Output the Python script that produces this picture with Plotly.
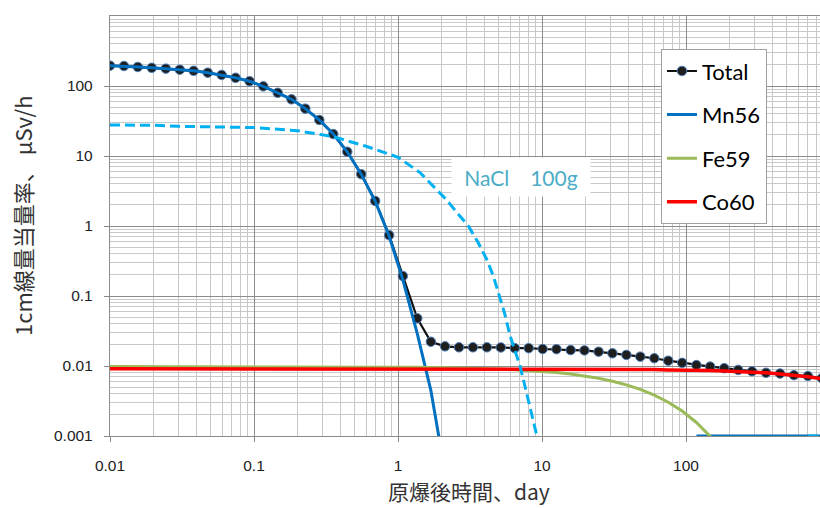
import plotly.graph_objects as go

# ---- data ----
times = [0.01, 0.0125, 0.0156, 0.0195, 0.0244, 0.0305, 0.0381, 0.0477, 0.0596, 0.0745,
         0.0931, 0.116, 0.146, 0.182, 0.227, 0.284, 0.355, 0.444, 0.555, 0.694,
         0.867, 1.08, 1.36, 1.69, 2.12, 2.65, 3.31, 4.14, 5.17, 6.46,
         8.08, 10.1, 12.6, 15.8, 19.7, 24.7, 30.8, 38.5, 48.1, 60.2,
         75.2, 94.0, 118, 147, 184, 230, 287, 359, 449, 561,
         701, 877]

total = [195, 193, 187, 182, 177, 171, 165, 155, 144, 131,
         117, 99, 80, 64.5, 47.5, 32.7, 20.6, 11.5, 5.5, 2.28,
         0.74, 0.193, 0.048, 0.0222, 0.0191, 0.0185, 0.0185, 0.0185, 0.0184, 0.018,
         0.018, 0.0175, 0.0174, 0.0169, 0.0167, 0.016, 0.0152, 0.0144, 0.0136, 0.0129,
         0.0119, 0.0111, 0.0103, 0.0098, 0.0093, 0.0088, 0.0084, 0.0080, 0.0078, 0.0074,
         0.0072, 0.0067]

mn56 = [195, 193, 187, 182, 177, 171, 165, 155, 144, 131,
        117, 99, 80, 64.5, 47.5, 32.7, 20.6, 11.5, 5.5, 2.26,
        0.72, 0.17, 0.029, 0.0045, 0.0003, None, None, None, None, None,
        None, None, None, None, None, None, None, None, None, None,
        None, None, 0.001, 0.001, 0.001, 0.001, 0.001, 0.001, 0.001, 0.001,
        0.001, 0.001]

fe59 = [0.0098, 0.0098, 0.0098, 0.0098, 0.0098, 0.0098, 0.0098, 0.0098, 0.0098, 0.0098,
        0.0098, 0.00976, 0.00976, 0.00976, 0.00976, 0.00975, 0.0097, 0.0097, 0.0097, 0.0097,
        0.00967, 0.00963, 0.0096, 0.00955, 0.00948, 0.0094, 0.0093, 0.00918, 0.00903, 0.00883,
        0.0086, 0.00837, 0.00806, 0.00766, 0.00721, 0.00667, 0.00607, 0.00538, 0.00463, 0.00384,
        0.00304, 0.00227, 0.00156, 0.00099, 0.00056, 0.00027, None, None, None, None,
        None, None]

co60 = [0.0091, 0.0091, 0.0091, 0.0091, 0.0091, 0.0091, 0.0091, 0.0091, 0.0091, 0.0091,
        0.0091, 0.0091, 0.0091, 0.0091, 0.0091, 0.0091, 0.0091, 0.0091, 0.0091, 0.0091,
        0.0091, 0.0091, 0.0091, 0.0091, 0.0091, 0.0091, 0.0091, 0.0091, 0.0091, 0.0091,
        0.0091, 0.0091, 0.0090, 0.0090, 0.0090, 0.0090, 0.0089, 0.0089, 0.0089, 0.0089,
        0.0088, 0.0088, 0.0087, 0.0086, 0.0085, 0.0084, 0.0082, 0.0080, 0.0077, 0.0074,
        0.0070, 0.0066]

nacl_t = [0.01, 0.02, 0.03, 0.05, 0.1, 0.2, 0.35, 0.6, 1.0, 1.42,
          1.67, 2.18, 2.6, 3.08, 3.6, 4.14, 4.6, 5.05, 5.5, 6.0,
          6.5, 7.03, 7.6, 8.4, 9.19, 9.6, None, 701, 877]
nacl_v = [27.7, 27.5, 26.5, 26.3, 25.5, 23, 19, 13.8, 9.6, 5.8,
          4.1, 2.35, 1.5, 1.0, 0.58, 0.33, 0.19, 0.1, 0.056, 0.027,
          0.0165, 0.01, 0.0052, 0.0023, 0.001, 0.0007, None, 0.001, 0.001]

x_ticks = [0.01, 0.1, 1, 10, 100]
x_ticktext = ["0.01", "0.1", "1", "10", "100"]
y_ticks = [0.001, 0.01, 0.1, 1, 10, 100]
y_ticktext = ["0.001", "0.01", "0.1", "1", "10", "100"]

series_names = ["Total", "Mn56", "Fe59", "Co60"]
nacl_label = "NaCl\u3000100g"
x_title = "原爆後時間、day"
y_title = "1cm線量当量率、 μSv/h"

# ---- figure ----
fig = go.Figure()

fig.add_trace(go.Scatter(
    x=times, y=total, name=series_names[0], mode="lines+markers",
    line=dict(color="#111111", width=2.2),
    marker=dict(symbol="circle", size=9.5, color="#1e1e1e",
                line=dict(color="#4f81bd", width=1)),
    legendgroup="g1"))
fig.add_trace(go.Scatter(
    x=times, y=mn56, name=series_names[1], mode="lines",
    line=dict(color="#0070c0", width=3), legendgroup="g2", connectgaps=False))
fig.add_trace(go.Scatter(
    x=times, y=fe59, name=series_names[2], mode="lines",
    line=dict(color="#9bbb59", width=3), legendgroup="g3", connectgaps=False))
fig.add_trace(go.Scatter(
    x=times, y=co60, name=series_names[3], mode="lines",
    line=dict(color="#ff0000", width=3.5), legendgroup="g4"))
fig.add_trace(go.Scatter(
    x=nacl_t, y=nacl_v, name="NaCl", mode="lines", showlegend=False,
    line=dict(color="#00b0f0", width=3, dash="10px,5px"), connectgaps=False))

tick_font = dict(family="Liberation Sans, Arial, sans-serif", size=15.5, color="#222222")

fig.update_xaxes(
    type="log", range=[-2, 2.93],
    tickmode="array", tickvals=x_ticks, ticktext=x_ticktext,
    ticks="outside", ticklen=5, tickcolor="#888888",
    ticklabelstandoff=10,
    showline=True, linecolor="#8c8c8c", linewidth=1.3, mirror=True,
    showgrid=True, gridcolor="#8c8c8c", gridwidth=1,
    minor=dict(dtick="D1", showgrid=True, gridcolor="#c8c8c8", gridwidth=1, ticks=""),
    tickfont=tick_font, zeroline=False)
fig.update_yaxes(
    type="log", range=[-3, 3],
    tickmode="array", tickvals=y_ticks, ticktext=y_ticktext,
    ticks="outside", ticklen=5, tickcolor="#888888",
    ticklabelstandoff=8,
    showline=True, linecolor="#8c8c8c", linewidth=1.3,
    showgrid=True, gridcolor="#8c8c8c", gridwidth=1,
    minor=dict(dtick="D1", showgrid=True, gridcolor="#c8c8c8", gridwidth=1, ticks=""),
    tickfont=tick_font, zeroline=False)

fig.update_layout(
    width=820, height=508, autosize=False,
    margin=dict(l=110, r=0, t=16, b=72),
    paper_bgcolor="white", plot_bgcolor="white",
    showlegend=True,
    legend=dict(x=0.776, y=0.921, xanchor="left", yanchor="top",
                bgcolor="white", bordercolor="#a0a0a0", borderwidth=1,
                font=dict(family="Lato, sans-serif", size=22, color="#000000"),
                tracegroupgap=12, itemwidth=30),
    annotations=[
        dict(text=nacl_label, xref="paper", yref="paper", x=0.579, y=0.617,
             xanchor="center", yanchor="middle", showarrow=False,
             bgcolor="white", width=136, height=36,
             font=dict(family="Lato, sans-serif", size=21, color="#4bacc6")),
        dict(text=y_title, xref="paper", yref="paper", x=-0.124, y=0.526,
             xanchor="center", yanchor="middle", showarrow=False, textangle=-90,
             font=dict(family="Noto Sans CJK JP, sans-serif", size=22, color="#333333")),
        dict(text=x_title, xref="paper", yref="paper", x=0.506, y=-0.131,
             xanchor="center", yanchor="middle", showarrow=False,
             font=dict(family="Noto Sans CJK JP, sans-serif", size=21, color="#333333")),
    ],
)

fig.write_html("out.html", config={"displayModeBar": False},
               post_script="document.body.style.margin='0px';document.body.style.overflow='hidden';")
